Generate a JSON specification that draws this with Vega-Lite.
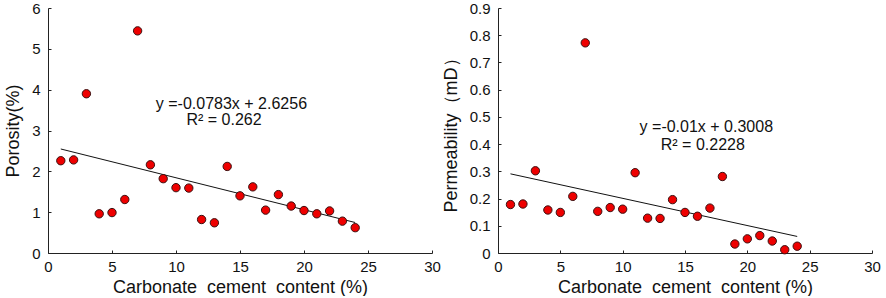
{
  "$schema": "https://vega.github.io/schema/vega-lite/v6.json",
  "padding": {"left": 4, "top": 1, "right": 0, "bottom": 0},
  "spacing": 1,
  "background": "white",
  "config": {
    "font": "Liberation Sans",
    "view": {"stroke": null},
    "axis": {
      "grid": false,
      "domainColor": "#222222",
      "domainWidth": 1,
      "tickColor": "#222222",
      "tickSize": -3,
      "labelFont": "Liberation Sans",
      "labelFontSize": 15,
      "labelColor": "#111111",
      "labelPadding": 11,
      "labelOverlap": false,
      "labelFlush": false,
      "titlePadding": 9,
      "titleFont": "Liberation Sans",
      "titleFontSize": 18,
      "titleFontWeight": "normal",
      "titleColor": "#111111"
    },
    "axisX": {"labelPadding": 9, "titlePadding": 4, "labelFlush": false}
  },
  "datasets": {
    "poro": [
      {"x": 1, "y": 2.26}, {"x": 2, "y": 2.28}, {"x": 3, "y": 3.9}, {"x": 4, "y": 0.96},
      {"x": 5, "y": 0.99}, {"x": 6, "y": 1.31}, {"x": 7, "y": 5.44}, {"x": 8, "y": 2.16},
      {"x": 9, "y": 1.82}, {"x": 10, "y": 1.6}, {"x": 11, "y": 1.59}, {"x": 12, "y": 0.82},
      {"x": 13, "y": 0.74}, {"x": 14, "y": 2.12}, {"x": 15, "y": 1.4}, {"x": 16, "y": 1.62},
      {"x": 17, "y": 1.05}, {"x": 18, "y": 1.43}, {"x": 19, "y": 1.15}, {"x": 20, "y": 1.04},
      {"x": 21, "y": 0.96}, {"x": 22, "y": 1.03}, {"x": 23, "y": 0.78}, {"x": 24, "y": 0.62}
    ],
    "poroFit": [{"x": 1, "y": 2.5473}, {"x": 24, "y": 0.7464}],
    "poroText": [
      {"x": 14.33, "y": 3.66, "t": "y =-0.0783x + 2.6256"},
      {"x": 13.75, "y": 3.25, "t": "R² = 0.262"}
    ],
    "perm": [
      {"x": 1, "y": 0.178}, {"x": 2, "y": 0.18}, {"x": 3, "y": 0.302}, {"x": 4, "y": 0.158},
      {"x": 5, "y": 0.149}, {"x": 6, "y": 0.208}, {"x": 7, "y": 0.772}, {"x": 8, "y": 0.153},
      {"x": 9, "y": 0.167}, {"x": 10, "y": 0.161}, {"x": 11, "y": 0.295}, {"x": 12, "y": 0.128},
      {"x": 13, "y": 0.127}, {"x": 14, "y": 0.196}, {"x": 15, "y": 0.149}, {"x": 16, "y": 0.135},
      {"x": 17, "y": 0.165}, {"x": 18, "y": 0.281}, {"x": 19, "y": 0.033}, {"x": 20, "y": 0.052},
      {"x": 21, "y": 0.064}, {"x": 22, "y": 0.044}, {"x": 23, "y": 0.012}, {"x": 24, "y": 0.025}
    ],
    "permFit": [{"x": 1, "y": 0.2908}, {"x": 24, "y": 0.0608}],
    "permText": [
      {"x": 16.71, "y": 0.4616, "t": "y =-0.01x + 0.3008"},
      {"x": 16.43, "y": 0.398, "t": "R² = 0.2228"}
    ]
  },
  "hconcat": [
    {
      "width": 384,
      "height": 245,
      "encoding": {
        "x": {"field": "x", "type": "quantitative", "scale": {"domain": [0, 30], "nice": false}, "axis": {"values": [0, 5, 10, 15, 20, 25, 30], "labelOverlap": false, "labelFlush": false, "title": "Carbonate\u00a0 cement\u00a0 content (%)"}},
        "y": {"field": "y", "type": "quantitative", "scale": {"domain": [0, 6], "nice": false}, "axis": {"values": [0, 1, 2, 3, 4, 5, 6], "labelOverlap": false, "title": "Porosity(%)"}}
      },
      "layer": [
        {
          "data": {"name": "poroFit"},
          "mark": {"type": "line", "color": "#111111", "strokeWidth": 1}
        },
        {
          "data": {"name": "poro"},
          "mark": {"type": "point", "shape": "circle", "filled": true, "fill": "#ee0000", "stroke": "#3a1010", "strokeWidth": 1, "opacity": 1, "size": 70}
        },
        {
          "data": {"name": "poroText"},
          "mark": {"type": "text", "fontSize": 16, "color": "#111111", "align": "center", "baseline": "middle", "font": "Liberation Sans"},
          "encoding": {"text": {"field": "t"}}
        }
      ]
    },
    {
      "width": 374,
      "height": 245,
      "encoding": {
        "x": {"field": "x", "type": "quantitative", "scale": {"domain": [0, 30], "nice": false}, "axis": {"values": [0, 5, 10, 15, 20, 25, 30], "labelOverlap": false, "labelFlush": false, "title": "Carbonate\u00a0 cement\u00a0 content (%)"}},
        "y": {"field": "y", "type": "quantitative", "scale": {"domain": [0, 0.9], "nice": false}, "axis": {"values": [0, 0.1, 0.2, 0.3, 0.4, 0.5, 0.6, 0.7, 0.8, 0.9], "labelOverlap": false, "labelExpr": "datum.value == 0 ? '0' : format(datum.value, '.1f')", "title": "Permeability（mD）"}}
      },
      "layer": [
        {
          "data": {"name": "permFit"},
          "mark": {"type": "line", "color": "#111111", "strokeWidth": 1}
        },
        {
          "data": {"name": "perm"},
          "mark": {"type": "point", "shape": "circle", "filled": true, "fill": "#ee0000", "stroke": "#3a1010", "strokeWidth": 1, "opacity": 1, "size": 70}
        },
        {
          "data": {"name": "permText"},
          "mark": {"type": "text", "fontSize": 16, "color": "#111111", "align": "center", "baseline": "middle", "font": "Liberation Sans"},
          "encoding": {"text": {"field": "t"}}
        }
      ]
    }
  ]
}
